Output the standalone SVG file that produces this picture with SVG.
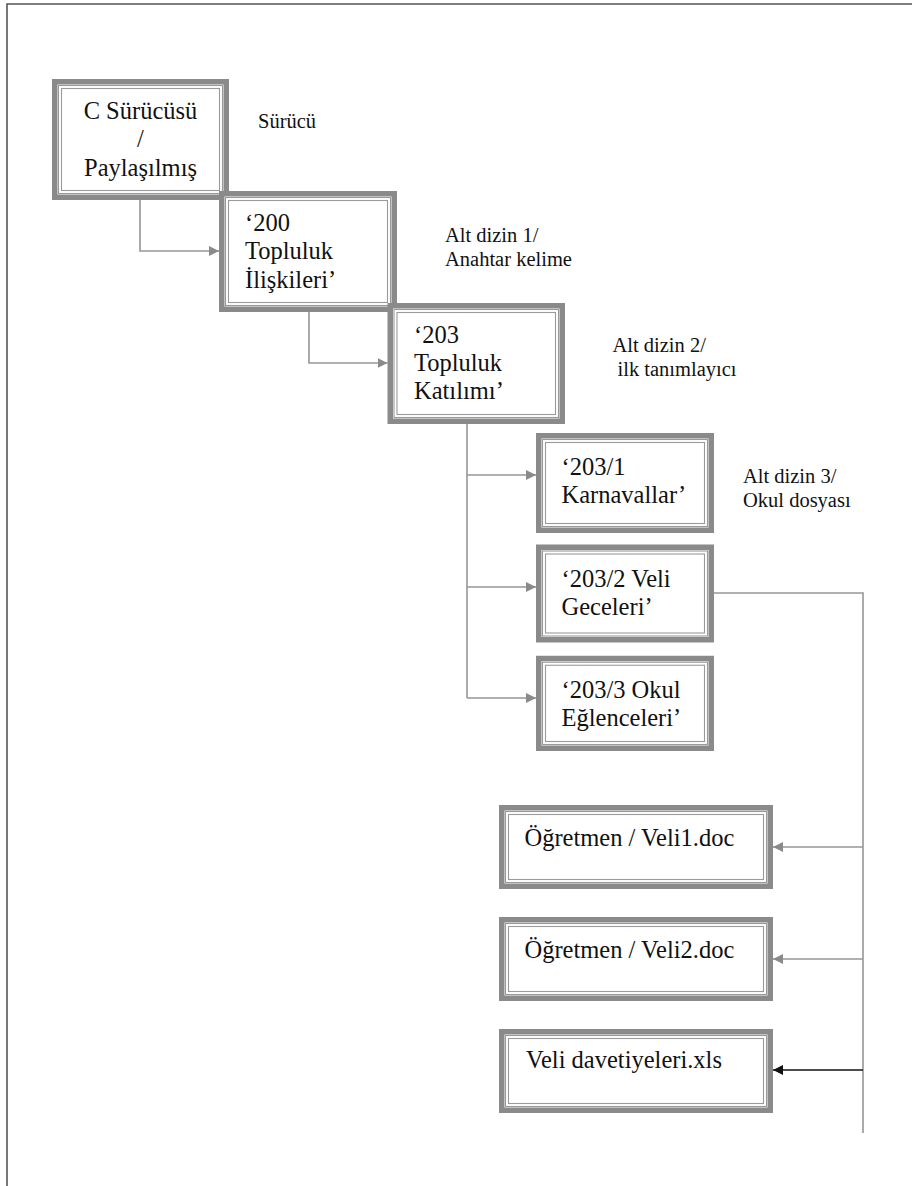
<svg xmlns="http://www.w3.org/2000/svg" width="912" height="1186" viewBox="0 0 912 1186">
<defs>
<style>
.fo{fill:#fff;stroke:#8a8a8a;stroke-width:5.5}
.fi{fill:none;stroke:#9a9a9a;stroke-width:1.1}
.bt{font-family:'Liberation Serif','Times New Roman','DejaVu Serif',serif;font-size:24.5px;fill:#111}
.lb{font-family:'Liberation Serif','Times New Roman','DejaVu Serif',serif;font-size:20.5px;fill:#111}
.cn{fill:none;stroke:#969696;stroke-width:1.6}
.cnk{fill:none;stroke:#111;stroke-width:1.6}
</style>
<marker id="ag" viewBox="0 0 10 10" refX="10" refY="5" markerWidth="10" markerHeight="10" markerUnits="userSpaceOnUse" orient="auto">
<path d="M0,0 L10,5 L0,10 Z" fill="#8a8a8a"/>
</marker>
<marker id="ak" viewBox="0 0 10 10" refX="10" refY="5" markerWidth="10" markerHeight="10" markerUnits="userSpaceOnUse" orient="auto">
<path d="M0,0 L10,5 L0,10 Z" fill="#111"/>
</marker>
</defs>
<rect width="912" height="1186" fill="#fff"/>
<g id="border" stroke="#555" stroke-width="1.6" fill="none">
<path d="M7,1186 V4 H912"/>
</g>

<g id="connectors">
<path class="cn" d="M140,200 V251 H219" marker-end="url(#ag)"/>
<path class="cn" d="M309,312 V363 H387.5" marker-end="url(#ag)"/>
<path class="cn" d="M467,424 V698"/>
<path class="cn" d="M467,475 H536" marker-end="url(#ag)"/>
<path class="cn" d="M467,587 H536" marker-end="url(#ag)"/>
<path class="cn" d="M467,698 H536" marker-end="url(#ag)"/>
<path class="cn" d="M714,593 H863 V1133"/>
<path class="cn" d="M863,847 H773" marker-end="url(#ag)"/>
<path class="cn" d="M863,959 H773" marker-end="url(#ag)"/>
<path class="cnk" d="M863,1070 H773" marker-end="url(#ak)"/>
</g>

<g id="n1">
<rect class="fo" x="54.75" y="81.75" width="171.5" height="115.5"/>
<rect class="fi" x="58.5" y="85.5" width="164" height="108"/>
<rect class="fi" x="61.5" y="88.5" width="158" height="102"/>
<text class="bt" text-anchor="middle" font-family="Liberation Serif, serif"><tspan x="140.5" y="119">C Sürücüsü</tspan><tspan x="140.5" y="147">/</tspan><tspan x="140.5" y="175.5">Paylaşılmış</tspan></text>
</g>
<g id="l1"><text class="lb" x="258" y="128">Sürücü</text></g>

<g id="n2">
<rect class="fo" x="221.75" y="193.75" width="172.5" height="115.5"/>
<rect class="fi" x="225.5" y="197.5" width="165" height="108"/>
<rect class="fi" x="228.5" y="200.5" width="159" height="102"/>
<text class="bt"><tspan x="245" y="230.5">‘200</tspan><tspan x="245" y="259">Topluluk</tspan><tspan x="245" y="287.5">İlişkileri’</tspan></text>
</g>
<g id="l2"><text class="lb"><tspan x="445" y="242">Alt dizin 1/</tspan><tspan x="445" y="265.5">Anahtar kelime</tspan></text></g>

<g id="n3">
<rect class="fo" x="390.25" y="305.75" width="172" height="115.5"/>
<rect class="fi" x="394" y="309.5" width="164.5" height="108"/>
<rect class="fi" x="397" y="312.5" width="158.5" height="102"/>
<text class="bt"><tspan x="414" y="342.5">‘203</tspan><tspan x="414" y="370.5">Topluluk</tspan><tspan x="414" y="398.5">Katılımı’</tspan></text>
</g>
<g id="l3"><text class="lb"><tspan x="612.5" y="352">Alt dizin 2/</tspan><tspan x="617.5" y="376">ilk tanımlayıcı</tspan></text></g>

<g id="n4">
<rect class="fo" x="538.75" y="435.75" width="172.5" height="94.5"/>
<rect class="fi" x="542.5" y="439.5" width="165" height="87"/>
<rect class="fi" x="545.5" y="442.5" width="159" height="81"/>
<text class="bt"><tspan x="561.5" y="474.5">‘203/1</tspan><tspan x="561.5" y="502.5">Karnavallar’</tspan></text>
</g>
<g id="l4"><text class="lb"><tspan x="743" y="482.5">Alt dizin 3/</tspan><tspan x="743" y="507">Okul dosyası</tspan></text></g>

<g id="n5">
<rect class="fo" x="538.75" y="547.25" width="172.5" height="92.5"/>
<rect class="fi" x="542.5" y="551" width="165" height="85"/>
<rect class="fi" x="545.5" y="554" width="159" height="79"/>
<text class="bt"><tspan x="561.5" y="586.5">‘203/2 Veli</tspan><tspan x="561.5" y="614.5">Geceleri’</tspan></text>
</g>

<g id="n6">
<rect class="fo" x="538.75" y="658.5" width="172.5" height="89.75"/>
<rect class="fi" x="542.5" y="662.25" width="165" height="82.25"/>
<rect class="fi" x="545.5" y="665.25" width="159" height="76.25"/>
<text class="bt"><tspan x="561.5" y="698">‘203/3 Okul</tspan><tspan x="561.5" y="726">Eğlenceleri’</tspan></text>
</g>

<g id="n7">
<rect class="fo" x="501.75" y="807.75" width="268.5" height="78.5"/>
<rect class="fi" x="505.5" y="811.5" width="261" height="71"/>
<rect class="fi" x="508.5" y="814.5" width="255" height="65"/>
<text class="bt" x="524.5" y="846">Öğretmen / Veli1.doc</text>
</g>

<g id="n8">
<rect class="fo" x="501.75" y="919.75" width="268.5" height="78.5"/>
<rect class="fi" x="505.5" y="923.5" width="261" height="71"/>
<rect class="fi" x="508.5" y="926.5" width="255" height="65"/>
<text class="bt" x="524.5" y="957.5">Öğretmen / Veli2.doc</text>
</g>

<g id="n9">
<rect class="fo" x="501.75" y="1031.75" width="268.5" height="78.5"/>
<rect class="fi" x="505.5" y="1035.5" width="261" height="71"/>
<rect class="fi" x="508.5" y="1038.5" width="255" height="65"/>
<text class="bt" x="526" y="1068">Veli davetiyeleri.xls</text>
</g>
</svg>
